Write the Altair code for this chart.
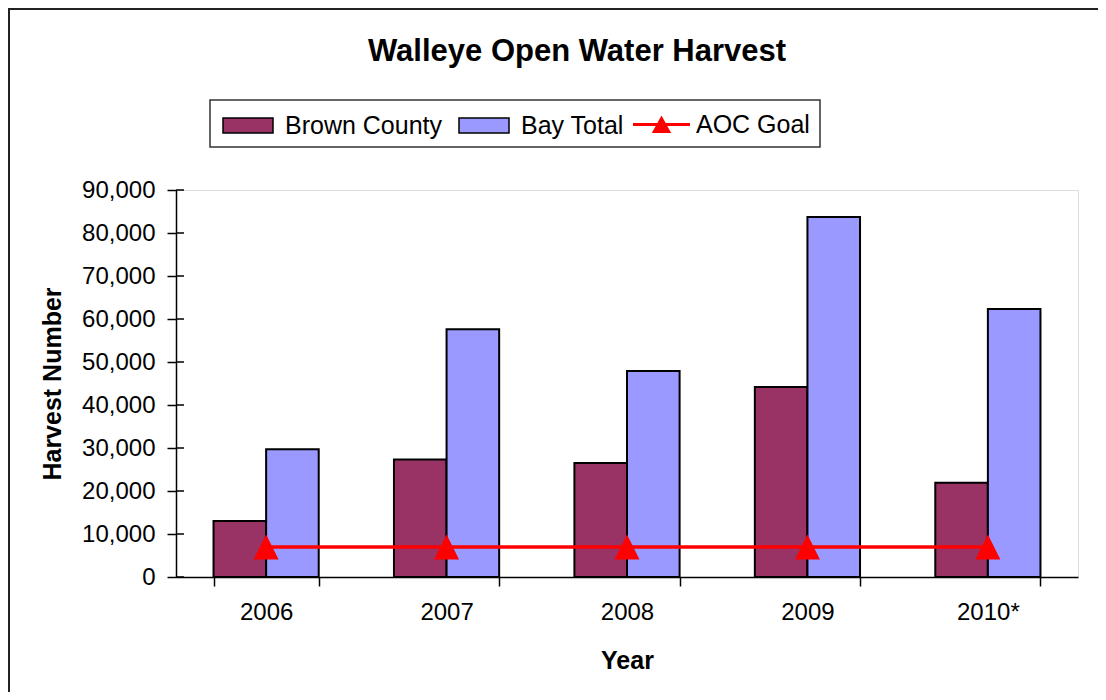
import altair as alt
import pandas as pd

years = ["2006", "2007", "2008", "2009", "2010*"]
brown_county = [13000, 27300, 26500, 44200, 21900]
bay_total = [29700, 57600, 47900, 83700, 62300]
aoc_goal = [7000, 7000, 7000, 7000, 7000]
series_names = ["Brown County", "Bay Total"]
series_colors = ["#993366", "#9999FF"]
y_ticks = [0, 10000, 20000, 30000, 40000, 50000, 60000, 70000, 80000, 90000]

FONT = "Liberation Sans"
W, H = 902, 387

bars_df = pd.DataFrame(
    [{"year": y, "series": series_names[0], "value": v} for y, v in zip(years, brown_county)]
    + [{"year": y, "series": series_names[1], "value": v} for y, v in zip(years, bay_total)]
)
goal_df = pd.DataFrame({"year": years, "value": aoc_goal, "goal": ["AOC Goal"] * len(years)})
ticks_df = pd.DataFrame({"value": y_ticks})

x_scale = alt.Scale(domain=years, paddingInner=0.417, paddingOuter=0.208)
y_scale = alt.Scale(domain=[0, 90000], nice=False, zero=True)

x_axis = alt.Axis(
    title="Year", labelFont=FONT, labelFontSize=24, labelColor="black", labelAngle=0,
    labelPadding=14, titleFont=FONT, titleFontSize=25, titleFontWeight="bold",
    titleColor="black", titlePadding=24, tickBand="extent", tickSize=9,
    tickColor="black", tickWidth=1.5, domainColor="black", domainWidth=1.5, grid=False,
)
y_axis = alt.Axis(
    title="Harvest Number", values=y_ticks, labelExpr="format(datum.value, ',')",
    labelFont=FONT, labelFontSize=24,
    labelColor="black", labelPadding=12, titleFont=FONT, titleFontSize=25,
    titleFontWeight="bold", titleColor="black", titlePadding=16, tickSize=9,
    tickColor="black", tickWidth=1.5, domainColor="black", domainWidth=1.5, grid=False,
)

# decorative outer frame and legend box
frame = alt.Chart(pd.DataFrame({"d": [0]})).mark_rect(
    fill=None, stroke="#222222", strokeWidth=2, clip=False
).encode(x=alt.value(-167), x2=alt.value(960), y=alt.value(-181), y2=alt.value(600))

legend_box = alt.Chart(pd.DataFrame({"d": [0]})).mark_rect(
    fill="white", stroke="#333333", strokeWidth=1.5, clip=False
).encode(x=alt.value(34), x2=alt.value(644), y=alt.value(-90), y2=alt.value(-43))

bars = alt.Chart(bars_df).mark_bar(stroke="black", strokeWidth=2).encode(
    x=alt.X("year:N", scale=x_scale, axis=x_axis, sort=years),
    xOffset=alt.XOffset("series:N", scale=alt.Scale(domain=series_names, paddingInner=0, paddingOuter=0)),
    y=alt.Y("value:Q", scale=y_scale, axis=y_axis),
    color=alt.Color(
        "series:N",
        scale=alt.Scale(domain=series_names, range=series_colors),
        legend=alt.Legend(
            title=None, orient="none", direction="horizontal", legendX=46, legendY=-90.5,
            padding=0, symbolType="M-1,-0.3H1V0.3H-1Z", symbolSize=2500,
            symbolStrokeColor="black", symbolStrokeWidth=1.5, symbolOpacity=1,
            labelFont=FONT, labelFontSize=25, labelColor="black", labelOffset=11,
            columnPadding=13, labelLimit=300,
        ),
    ),
)

line = alt.Chart(goal_df).mark_line(color="#FF0000", strokeWidth=3.5).encode(
    x=alt.X("year:N", scale=x_scale, axis=x_axis, sort=years),
    y=alt.Y("value:Q", scale=y_scale, axis=y_axis),
)

points = alt.Chart(goal_df).mark_point(
    shape="M0,-1L1,1L-1,1Z", filled=True, size=625, color="#FF0000", strokeWidth=0
).encode(
    x=alt.X("year:N", scale=x_scale, axis=x_axis, sort=years),
    y=alt.Y("value:Q", scale=y_scale, axis=y_axis),
    opacity=alt.Opacity(
        "goal:N",
        scale=alt.Scale(domain=["AOC Goal"], range=[1]),
        legend=alt.Legend(
            title=None, orient="none", legendX=457, legendY=-94, padding=0,
            symbolType="M-1,-0.055H1V0.055H-1Z M0,-0.32L0.34,0.3L-0.34,0.3Z",
            symbolSize=3249, symbolFillColor="#FF0000", symbolStrokeColor="#FF0000",
            symbolStrokeWidth=0, labelFont=FONT, labelFontSize=25, labelColor="black",
            labelOffset=6, labelLimit=300,
        ),
    ),
)

inner_ticks = alt.Chart(ticks_df).mark_rule(color="black", strokeWidth=1.5).encode(
    x=alt.value(0), x2=alt.value(8), y=alt.Y("value:Q", scale=y_scale, axis=y_axis)
)

chart = alt.layer(frame, legend_box, bars, line, points, inner_ticks).properties(
    width=W, height=H,
    title=alt.TitleParams(
        "Walleye Open Water Harvest", font=FONT, fontSize=31, fontWeight="bold",
        color="black", anchor="middle", dx=-50, offset=0, dy=60,
    ),
    autosize=alt.AutoSizeParams(type="none"),
    padding={"left": 168, "top": 182, "right": 20, "bottom": 115},
).configure_view(stroke="#808080", strokeWidth=2).configure(background="white")

chart.save("out.html", embed_options={"renderer": "svg", "actions": False})
